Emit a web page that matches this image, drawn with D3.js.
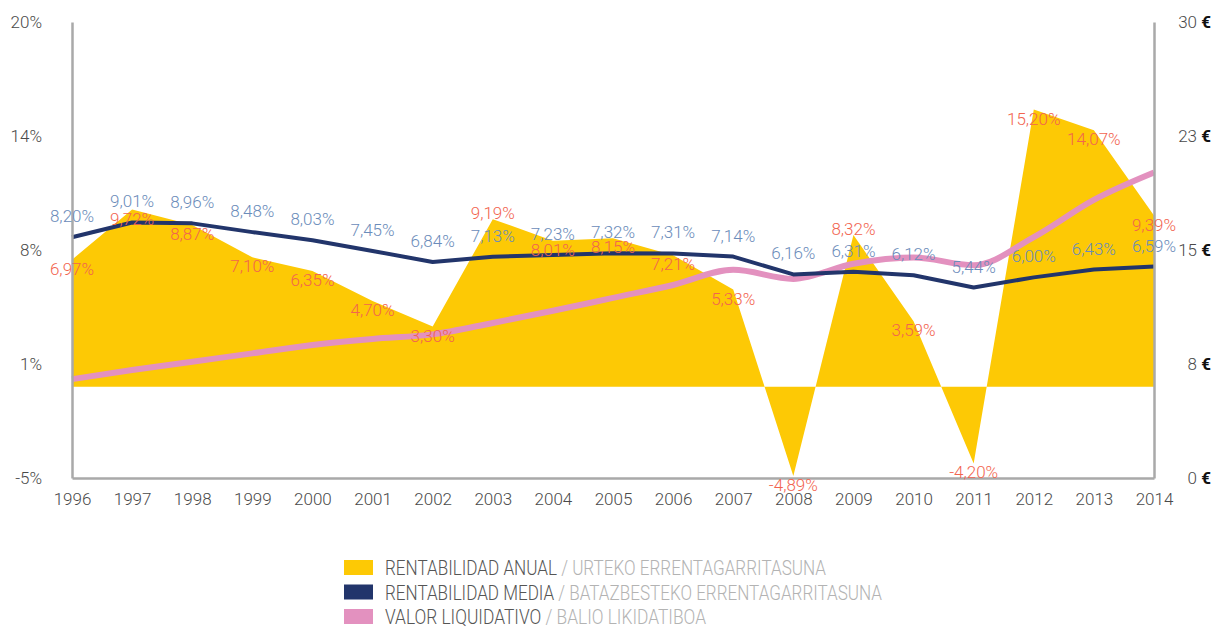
<!DOCTYPE html>
<html>
<head>
<meta charset="utf-8">
<script src="https://cdn.jsdelivr.net/npm/d3@7"></script>
<style>
  body { margin: 0; background: #fff; }
  svg text { font-family: Roboto, "Helvetica Neue", Arial, sans-serif; font-weight: 300; }
</style>
</head>
<body>
<div id="chart"></div>
<script>
// data
const years = [1996, 1997, 1998, 1999, 2000, 2001, 2002, 2003, 2004, 2005, 2006, 2007, 2008, 2009, 2010, 2011, 2012, 2013, 2014];
const anual = [6.97, 9.72, 8.87, 7.10, 6.35, 4.70, 3.30, 9.19, 8.01, 8.15, 7.21, 5.33, -4.89, 8.32, 3.59, -4.20, 15.20, 14.07, 9.39];
const media = [8.20, 9.01, 8.96, 8.48, 8.03, 7.45, 6.84, 7.13, 7.23, 7.32, 7.31, 7.14, 6.16, 6.31, 6.12, 5.44, 6.00, 6.43, 6.59];
const valor = [6.5, 7.1, 7.65, 8.2, 8.75, 9.15, 9.45, 10.2, 11.0, 11.85, 12.7, 13.7, 13.1, 14.1, 14.5, 14.0, 15.85, 18.3, 20.1];
const leftTicks = [20, 13.75, 7.5, 1.25, -5];
const rightTicks = [30, 22.5, 15, 7.5, 0];
const labelsAbove = [2003, 2009]; // annual labels written over the peak

const W = 1213, H = 628;
const margin = { top: 22, left: 72, right: 59, bottom: 150 };
const width = W - margin.left - margin.right,
  height = H - margin.top - margin.bottom;

const colAnual = "#fdc905", colMedia = "#22356b", colValor = "#e391bf";
const colRed = "#f2644f", colBlue = "#6b8cba", colAxis = "#a9a9a9", colText = "#4a4a4a";

const fmt = v => v.toFixed(2).replace(".", ",") + "%";

let svg = d3.select("#chart").append("svg")
  .attr("width", W)
  .attr("height", H);

let g = svg.append("g").attr("transform", `translate(${margin.left},${margin.top})`);

const x = d3.scalePoint().domain(years).range([0, width]);
const y = d3.scaleLinear().domain([-5, 20]).range([height, 0]);
const y2 = d3.scaleLinear().domain([0, 30]).range([height, 0]);

const rows = years.map((yr, i) => ({ yr, a: anual[i], m: media[i], v: valor[i] }));

// annual area
g.append("path")
  .datum(rows)
  .attr("fill", colAnual)
  .attr("d", d3.area().x(d => x(d.yr)).y0(y(0)).y1(d => y(d.a)));

// valor liquidativo
g.append("path")
  .datum(rows)
  .attr("fill", "none")
  .attr("stroke", colValor)
  .attr("stroke-width", 6)
  .attr("d", d3.line().curve(d3.curveMonotoneX).x(d => x(d.yr)).y(d => y2(d.v)));

// rentabilidad media
g.append("path")
  .datum(rows)
  .attr("fill", "none")
  .attr("stroke", colMedia)
  .attr("stroke-width", 4)
  .attr("stroke-linejoin", "round")
  .attr("d", d3.line().x(d => x(d.yr)).y(d => y(d.m)));

// axes
let axL = g.append("g").call(d3.axisLeft(y).tickValues(leftTicks).tickSize(0).tickPadding(30)
  .tickFormat(d => Math.round(d) + "%"));
let axR = g.append("g").attr("transform", `translate(${width},0)`)
  .call(d3.axisRight(y2).tickValues(rightTicks).tickSize(0).tickPadding(24)
  .tickFormat(d => Math.round(d)));
let axB = g.append("g").attr("transform", `translate(0,${height})`)
  .call(d3.axisBottom(x).tickSize(0).tickPadding(15));

[axL, axR, axB].forEach(a => {
  a.select(".domain").attr("stroke", colAxis).attr("stroke-width", 2.5);
  a.selectAll("text").attr("fill", colText).style("font-size", "17px");
});
axR.selectAll(".tick text").attr("text-anchor", "end").attr("x", 57)
  .append("tspan").text(" €").style("font-weight", 700).attr("fill", "#111");

// value labels
g.append("g").selectAll("text")
  .data(rows)
  .join("text")
  .attr("x", d => x(d.yr))
  .attr("y", d => y(d.m) - 15)
  .attr("text-anchor", "middle")
  .attr("fill", colBlue)
  .style("font-size", "17px")
  .text(d => fmt(d.m));

g.append("g").selectAll("text")
  .data(rows)
  .join("text")
  .attr("x", d => x(d.yr))
  .attr("y", d => labelsAbove.includes(d.yr) ? y(d.a) : y(d.a) + 15)
  .attr("text-anchor", "middle")
  .attr("fill", colRed)
  .style("font-size", "17px")
  .text(d => fmt(d.a));

// legend
const legend = [
  { c: colAnual, es: "RENTABILIDAD ANUAL", eu: "URTEKO ERRENTAGARRITASUNA", w: 441 },
  { c: colMedia, es: "RENTABILIDAD MEDIA", eu: "BATAZBESTEKO ERRENTAGARRITASUNA", w: 497 },
  { c: colValor, es: "VALOR LIQUIDATIVO", eu: "BALIO LIKIDATIBOA", w: 321 }
];
let lg = svg.append("g").attr("class", "legend");
let li = lg.selectAll("g").data(legend).join("g")
  .attr("transform", (d, i) => `translate(344,${560 + i * 24.5})`);
li.append("rect").attr("width", 29).attr("height", 15).attr("fill", d => d.c);
let lt = li.append("text").attr("x", 41).attr("y", 15).style("font-size", "20px")
  .attr("textLength", d => d.w).attr("lengthAdjust", "spacingAndGlyphs");
lt.append("tspan").attr("fill", "#555").text(d => d.es);
lt.append("tspan").attr("fill", "#b3b3b3").text(d => " / " + d.eu);
</script>
</body>
</html>
